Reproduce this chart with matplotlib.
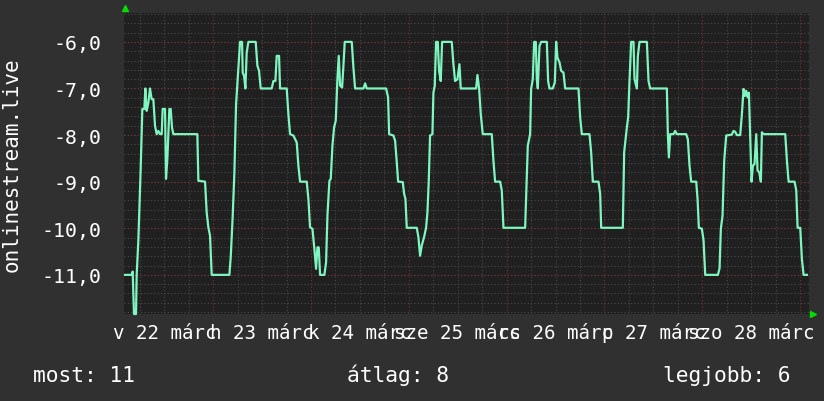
import matplotlib
matplotlib.use('Agg')
import matplotlib.pyplot as plt
import matplotlib.transforms as mtransforms
import numpy as np

# hours since 22 March 00:00, and the (negative) rank value
hours = [2.35, 3.98, 4.23, 4.55, 5.05, 5.21, 5.62, 6.19, 6.60, 7.09, 7.34, 7.66, 8.07, 8.48, 8.89,
         9.30, 9.71, 10.12, 10.53, 10.94, 11.35, 11.59, 12.17, 12.41, 12.74, 13.23, 13.56, 13.88,
         14.21, 20.10, 20.35, 21.99, 22.39, 22.80, 23.21, 23.62, 27.96, 28.29, 28.78, 29.19, 29.60,
         30.17, 30.58, 31.07, 31.23, 31.56, 31.89, 32.21, 32.62, 34.42, 34.83, 35.24, 35.65, 38.35,
         38.76, 39.25, 39.58, 40.15, 40.40, 42.03, 42.44, 42.85, 43.67, 44.49, 44.90, 45.31, 46.94,
         47.35, 47.76, 48.34, 48.74, 49.24, 49.56, 49.89, 50.22, 51.28, 51.69, 52.02, 52.51, 52.84,
         53.25, 53.65, 54.06, 54.47, 54.80, 55.13, 55.62, 55.95, 56.27, 57.99, 58.40, 58.81, 60.86,
         61.27, 61.67, 66.42, 66.91, 67.16, 68.22, 68.63, 69.04, 69.37, 70.51, 70.84, 71.17, 71.49,
         73.94, 74.35, 74.76, 75.17, 75.74, 76.23, 76.56, 76.89, 77.21, 77.79, 78.03, 78.36, 78.69,
         79.10, 79.42, 79.83, 80.16, 82.53, 82.94, 83.35, 83.93, 84.42, 84.74, 88.51, 88.84, 89.24,
         89.65, 90.14, 92.35, 92.76, 93.17, 94.40, 94.81, 95.22, 100.54, 100.78, 101.19, 101.76,
         102.01, 102.42, 102.75, 103.16, 103.40, 103.65, 104.06, 104.47, 105.86, 106.18, 106.51,
         107.33, 107.82, 108.15, 108.47, 108.97, 109.38, 109.95, 110.36, 113.63, 114.04, 114.45,
         116.33, 116.74, 117.15, 118.54, 118.95, 119.20, 124.51, 124.84, 125.50, 125.82, 126.15,
         126.56, 127.13, 127.38, 127.95, 128.20, 128.61, 130.41, 130.82, 131.22, 135.32, 135.56,
         135.81, 136.13, 136.95, 137.36, 137.77, 140.06, 140.47, 140.88, 141.29, 142.52, 142.85,
         143.17, 143.91, 144.32, 144.73, 147.84, 148.25, 148.57, 148.98, 149.39, 149.88, 151.27,
         151.68, 152.09, 152.50, 153.32, 153.73, 154.14, 154.46, 154.79, 155.12, 155.45, 155.77,
         156.10, 156.43, 156.84, 157.25, 157.57, 157.98, 158.39, 158.64, 159.05, 164.37, 164.78,
         165.19, 166.66, 167.07, 167.40, 168.05, 168.46, 168.87, 169.68]
values = [-11.0, -11.0, -10.93, -11.84, -11.84, -11.0, -10.26, -8.73, -7.44, -7.44, -7.0, -7.48, -7.31,
          -7.0, -7.23, -7.23, -7.8, -7.98, -7.91, -7.98, -7.98, -7.44, -7.44, -8.94, -8.51, -7.44,
          -7.44, -7.84, -7.98, -7.98, -8.98, -9.0, -9.66, -9.98, -10.16, -11.0, -11.0, -10.62, -9.73,
          -8.8, -7.34, -6.55, -6.0, -6.0, -6.66, -6.73, -7.0, -6.23, -6.0, -6.0, -6.51, -6.62, -7.0,
          -7.0, -6.84, -6.84, -6.3, -6.3, -7.0, -7.0, -7.55, -7.98, -8.01, -8.16, -8.66, -9.0, -9.0,
          -9.37, -9.98, -10.01, -10.37, -10.87, -10.41, -10.41, -11.0, -11.0, -10.73, -9.73, -8.98,
          -8.94, -8.23, -7.84, -7.69, -6.8, -6.3, -6.94, -6.98, -6.51, -6.0, -6.0, -6.55, -7.0, -7.0,
          -6.89, -7.0, -7.0, -7.19, -7.98, -8.01, -8.12, -8.59, -9.0, -9.01, -9.26, -9.37, -9.99,
          -9.99, -10.19, -10.59, -10.37, -10.19, -9.99, -9.66, -8.98, -8.01, -7.98, -7.09, -6.94,
          -6.0, -6.0, -6.62, -6.84, -6.0, -6.0, -6.48, -6.84, -6.8, -6.48, -7.0, -7.0, -6.71, -7.0,
          -7.55, -7.98, -7.98, -8.55, -9.0, -9.0, -9.19, -9.99, -9.99, -9.34, -8.23, -7.98, -7.01,
          -6.8, -6.0, -6.0, -6.8, -7.0, -6.09, -6.0, -6.0, -6.84, -7.0, -7.0, -6.87, -6.0, -6.34,
          -6.44, -6.62, -6.66, -7.0, -7.0, -7.62, -7.98, -7.98, -8.37, -9.0, -9.0, -9.26, -9.99,
          -9.99, -8.37, -7.84, -7.62, -6.84, -6.0, -6.0, -6.8, -7.0, -6.3, -6.0, -6.0, -6.84, -7.0,
          -7.0, -7.98, -8.48, -7.98, -7.98, -7.91, -7.98, -7.98, -8.09, -8.66, -9.0, -9.0, -9.37,
          -9.99, -10.01, -10.26, -11.0, -11.0, -10.86, -10.01, -9.73, -8.55, -8.01, -7.99, -7.91,
          -7.93, -8.0, -8.0, -7.55, -7.01, -7.16, -7.05, -7.19, -7.09, -8.05, -9.0, -8.66, -8.62,
          -7.98, -8.76, -8.8, -9.0, -7.94, -7.98, -7.98, -8.55, -9.0, -9.0, -9.19, -9.99, -9.99,
          -10.66, -11.0, -11.0]

day_labels = ['v 22 márc', 'h 23 márc', 'k 24 márc', 'sze 25 márc', 'cs 26 márc', 'p 27 márc', 'szo 28 márc']
ytick_vals = [-6, -7, -8, -9, -10, -11]
ytick_text = ['-6,0', '-7,0', '-8,0', '-9,0', '-10,0', '-11,0']
footer = ['most: 11', 'átlag: 8', 'legjobb: 6']

bg = '#303030'
plot_bg = '#202020'
mono = 'DejaVu Sans Mono'

fig = plt.figure(figsize=(8.24, 4.02), dpi=100, facecolor=bg)
ax = fig.add_axes([124 / 824, 1 - 315 / 402, 685 / 824, 301 / 402])
ax.set_facecolor(plot_bg)
ax.set_xlim(2.1, 170.2)
ax.set_ylim(-11.84, -5.38)

# grid: minor grey dotted, major red dotted
for y in np.arange(-11.8, -5.39, 0.2):
    ax.axhline(y, color='#4a4a4a', lw=0.8, ls=(0, (1, 2)), zorder=1)
for y in ytick_vals:
    ax.axhline(y, color='#7a3232', lw=0.8, ls=(0, (1, 2)), zorder=1)
for x in range(6, 170, 6):
    c = '#7a3232' if x % 24 == 0 else '#4a4a4a'
    ax.axvline(x, color=c, lw=0.8, ls=(0, (1, 2)), zorder=1)

ax.plot(hours, values, color='#7ff5c0', lw=1.6, zorder=3, clip_on=False)

for s in ax.spines.values():
    s.set_visible(False)
ax.set_xticks([])
ax.set_yticks(ytick_vals)
ax.set_yticklabels(ytick_text, family=mono, fontsize=14.3, color='white')
ax.tick_params(axis='y', length=0, pad=16)

trans = mtransforms.blended_transform_factory(ax.transData, ax.transAxes)
for i, lab in enumerate(day_labels):
    ax.text(12 + 24 * i, -24 / 301, lab, transform=trans, ha='center', va='baseline',
            family=mono, fontsize=13.75, color='white', clip_on=False)

# axis arrows
ax.plot([0.002], [1.015], marker='^', color='#00dd00', ms=5, transform=ax.transAxes, clip_on=False)
ax.plot([1.006], [0.0], marker='>', color='#00dd00', ms=5, transform=ax.transAxes, clip_on=False)

fig.text(12 / 824, 1 - 164.5 / 402, 'onlinestream.live', rotation=90, ha='center', va='center',
         family=mono, fontsize=15, color='white')

for x, t in zip([33, 347, 663], footer):
    fig.text(x / 824, 1 - 382 / 402, t, ha='left', va='baseline', family=mono, fontsize=15.3,
             color='white')

fig.savefig('out.png', dpi=100, facecolor=bg)
